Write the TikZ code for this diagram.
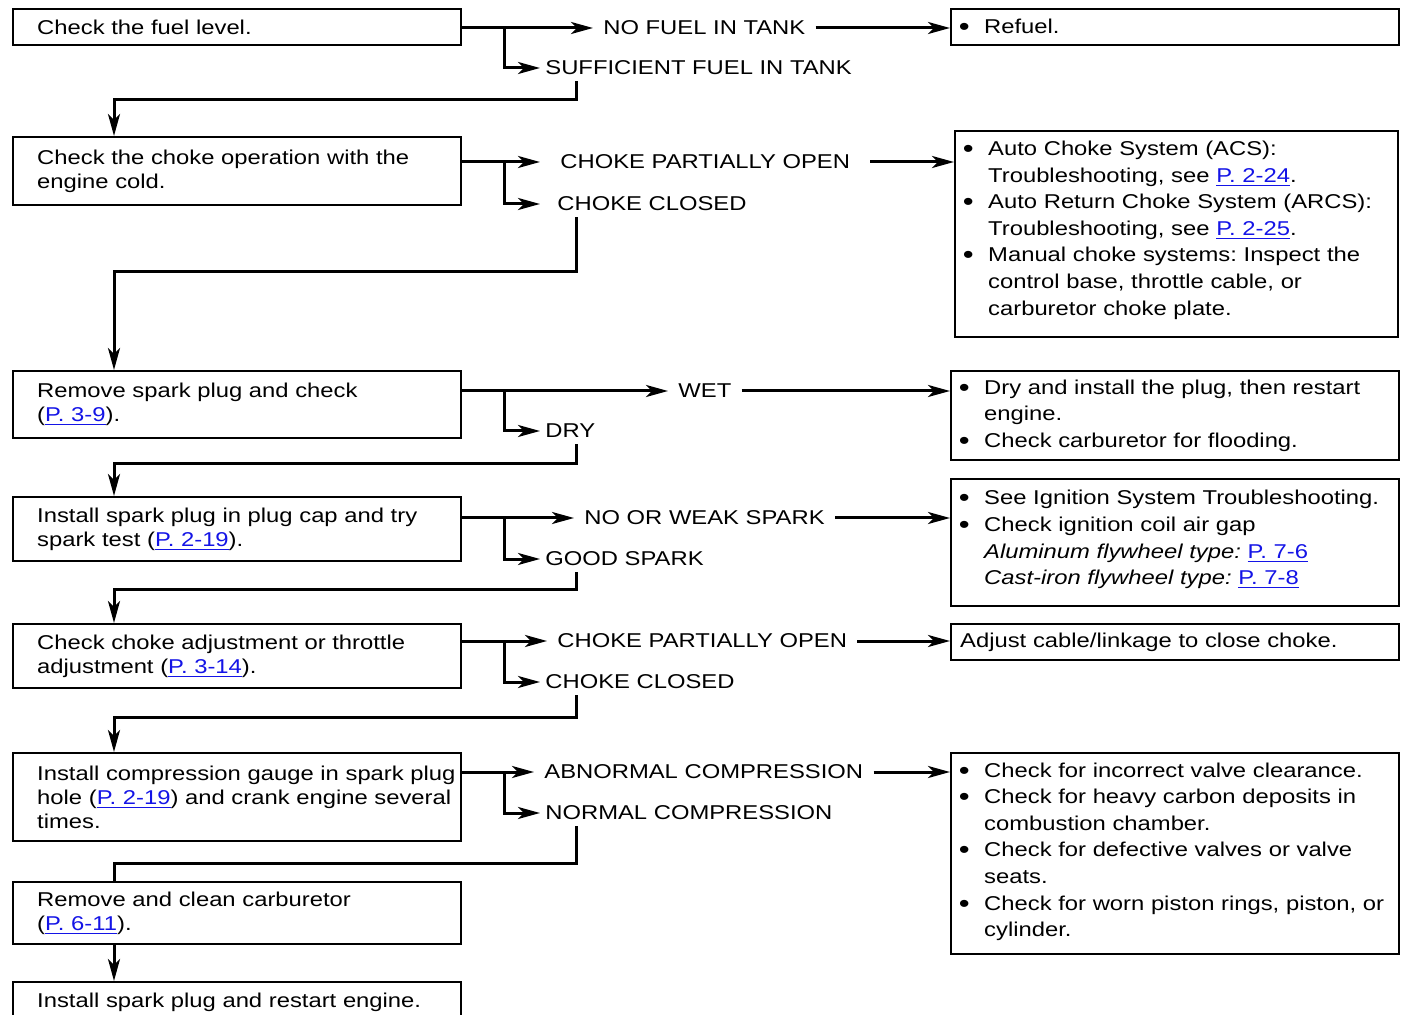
\documentclass[tikz,border=0pt]{standalone}
\usepackage{fontspec}
\setmainfont{Liberation Sans}[FakeStretch=1.19]
\usetikzlibrary{arrows.meta,calc}
\definecolor{linkblue}{RGB}{20,20,230}
\newcommand{\plink}[1]{\textcolor{linkblue}{\underline{#1}}}
\newcommand{\bul}[1]{\hangindent=14.5pt\hangafter=1\makebox[14.5pt][l]{\hspace{1.8pt}\raisebox{-1pt}{\fontsize{13}{13}\selectfont\textbullet}}#1\par}
\frenchspacing
\begin{document}
\begin{tikzpicture}[
        x=0.5pt, y=-0.5pt,
        stepbox/.style={draw, line width=1.2pt, anchor=north west, text width=220pt, minimum width=224pt,
            inner xsep=2pt, inner ysep=0pt, font=\fontsize{10}{12}\selectfont,
            execute at begin node={\frenchspacing\leftskip=10pt\rightskip=-8pt plus 1fil\relax}},
        fixbox/.style={draw, line width=1.2pt, anchor=north west, text width=220pt, minimum width=224pt,
            inner xsep=2pt, inner ysep=0pt, font=\fontsize{10}{13.3}\selectfont,
            execute at begin node={\frenchspacing\leftskip=0pt\rightskip=-6pt plus 1fil\relax}},
        yeslabel/.style={anchor=west, inner xsep=5pt, inner ysep=3pt, font=\fontsize{10}{12}\selectfont},
        nolabel/.style={anchor=west, inner xsep=2.5pt, inner ysep=3pt, font=\fontsize{10}{12}\selectfont},
        conn/.style={-{Stealth[length=11pt, width=6pt, inset=3pt]}, line width=1.5pt},
        wire/.style={line width=1.5pt}
    ]
        \useasboundingbox (0,0) rectangle (1402,1015);

        % Checks (left column)
        \node[stepbox, minimum height=18pt] (s1) at (12,8) {Check the fuel level.};
        \node[stepbox, minimum height=34pt] (s2) at (12,136) {Check the choke operation with the\newline engine cold.};
        \node[stepbox, minimum height=33.5pt] (s3) at (12,370) {Remove spark plug and check\newline (\plink{P. 3-9}).};
        \node[stepbox, minimum height=32pt] (s4) at (12,496) {Install spark plug in plug cap and try\newline spark test (\plink{P. 2-19}).};
        \node[stepbox, minimum height=32pt] (s5) at (12,623) {Check choke adjustment or throttle\newline adjustment (\plink{P. 3-14}).};
        \node[stepbox, minimum height=44pt] (s6) at (12,752) {Install compression gauge in spark plug\newline hole (\plink{P. 2-19}) and crank engine several\newline times.};
        \node[stepbox, minimum height=31pt] (s7) at (12,881) {Remove and clean carburetor\newline (\plink{P. 6-11}).};
        \node[stepbox, minimum height=20pt] (s8) at (12,981) {Install spark plug and restart engine.};

        % Results
        \node[yeslabel] (yes1) at (593,28) {NO FUEL IN TANK};
        \node[nolabel] (no1) at (540,68) {SUFFICIENT FUEL IN TANK};
        \node[yeslabel, inner xsep=10pt] (yes2) at (540,162) {CHOKE PARTIALLY OPEN};
        \node[nolabel, inner xsep=8.5pt] (no2) at (540,204) {CHOKE CLOSED};
        \node[yeslabel] (yes3) at (668,391) {WET};
        \node[nolabel] (no3) at (540,431) {DRY};
        \node[yeslabel] (yes4) at (574,518) {NO OR WEAK SPARK};
        \node[nolabel] (no4) at (540,559) {GOOD SPARK};
        \node[yeslabel] (yes5) at (547,641) {CHOKE PARTIALLY OPEN};
        \node[nolabel] (no5) at (540,682) {CHOKE CLOSED};
        \node[yeslabel] (yes6) at (534,772) {ABNORMAL COMPRESSION};
        \node[nolabel] (no6) at (540,813) {NORMAL COMPRESSION};

        % Fixes (right column)
        \node[fixbox, minimum height=18pt] (r1) at (950,8) {\bul{Refuel.}};
        \node[fixbox, minimum height=103pt, text width=217.5pt, minimum width=221.5pt] (r2) at (954,130) {%
            \bul{Auto Choke System (ACS):\newline Troubleshooting, see \plink{P. 2-24}.}%
            \bul{Auto Return Choke System (ARCS):\newline Troubleshooting, see \plink{P. 2-25}.}%
            \bul{Manual choke systems: Inspect the\newline control base, throttle cable, or\newline carburetor choke plate.}\kern4pt};
        \node[fixbox, minimum height=44.5pt] (r3) at (950,370) {%
            \bul{Dry and install the plug, then restart\newline engine.}%
            \bul{Check carburetor for flooding.}};
        \node[fixbox, minimum height=63.5pt] (r4) at (950,478) {%
            \bul{See Ignition System Troubleshooting.}%
            \bul{Check ignition coil air gap\newline \textit{Aluminum flywheel type:} \plink{P. 7-6}\newline \textit{Cast-iron flywheel type:} \plink{P. 7-8}}\kern3pt};
        \node[fixbox, minimum height=18pt] (r5) at (950,623) {\hspace*{2.5pt}Adjust cable/linkage to close choke.};
        \node[fixbox, minimum height=100.5pt] (r6) at (950,752) {%
            \bul{Check for incorrect valve clearance.}%
            \bul{Check for heavy carbon deposits in\newline combustion chamber.}%
            \bul{Check for defective valves or valve\newline seats.}%
            \bul{Check for worn piston rings, piston, or\newline cylinder.}\kern2pt};

        % Branches
        \foreach \i in {1,...,6} {
            \draw[conn] (s\i.east |- yes\i.west) -- (yes\i.west);
            \draw[conn] ($(s\i.east |- yes\i.west)+(21pt,0)$) |- (no\i.west);
            \draw[conn] (yes\i.east) -- (r\i.west |- yes\i.east);
        }

        % Back to the next check
        \coordinate (col) at (576,0);
        \foreach \i/\j/\d in {1/2/18, 2/3/54, 3/4/19, 4/5/17, 5/6/22} {
            \draw[conn] (col |- no\i.south) -- ++(0,\d) -| ([xshift=51pt]s\j.north west);
        }
        \draw[wire] (col |- no6.south) -- ++(0,37) -| ([xshift=51pt]s7.north west);
        \draw[conn] ([xshift=51pt]s7.south west) -- ([xshift=51pt]s8.north west);
    \end{tikzpicture}
\end{document}
